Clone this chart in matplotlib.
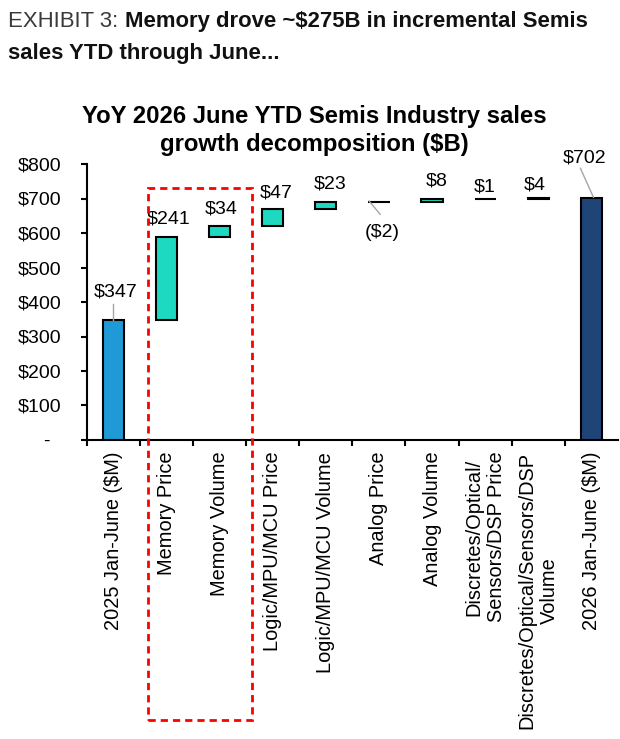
import matplotlib
matplotlib.use('Agg')
import matplotlib.pyplot as plt
from matplotlib.patches import Rectangle
from matplotlib.transforms import offset_copy
from matplotlib import font_manager

# ---------------- data ----------------
categories = ["2025 Jan-June ($M)", "Memory Price", "Memory Volume",
              "Logic/MPU/MCU Price", "Logic/MPU/MCU Volume", "Analog Price",
              "Analog Volume", "Discretes/Optical/\nSensors/DSP Price",
              "Discretes/Optical/Sensors/DSP\nVolume", "2026 Jan-June ($M)"]
start_total = 346.6
changes = [240.8, 34.2, 46.9, 22.6, -1.8, 7.9, 0.9, 3.9]
end_total = 702.0
value_labels = ["$347", "$241", "$34", "$47", "$23", "($2)", "$8", "$1", "$4", "$702"]
y_ticks = [0, 100, 200, 300, 400, 500, 600, 700, 800]
y_tick_labels = ["-  ", "$100", "$200", "$300", "$400", "$500", "$600", "$700", "$800"]

header_light = "EXHIBIT 3: "
header_bold_1 = "Memory drove ~$275B in incremental Semis"
header_bold_2 = "sales YTD through June..."
chart_title_1 = "YoY 2026 June YTD Semis Industry sales"
chart_title_2 = "growth decomposition ($B)"

# ---------------- style ----------------
W, H, DPI = 620, 739, 100
names = {f.name for f in font_manager.fontManager.ttflist}
SANS = 'Liberation Sans' if 'Liberation Sans' in names else 'DejaVu Sans'
plt.rcParams['font.family'] = [SANS, 'DejaVu Sans']

c_start = '#1F9AD6'
c_inc = '#1DD9C1'
c_end = '#1F4578'
lead_col = '#A6A6A6'

# label offsets in pixels from (bar centre, bar top)
label_dx = [2.5, 2.5, 1.5, 3.5, 3.9, 3.75, 4.5, -0.6, -3.8, -7.2]
label_dy = [31, 21.3, 18.8, 18.7, 19.9, -28.5, 20.5, 14.2, 15.1, 42.8]
# leader lines: index, (x0,y0) -> (x1,y1) pixel offsets from bar top
leaders = [(0, 0, 0, 0, 16), (5, -9.75, 0.5, 1.25, -12.8), (9, 2, 0.5, -11, 29.5)]

fig = plt.figure(figsize=(W / DPI, H / DPI), dpi=DPI)
ax = fig.add_axes([86.7 / W, 1 - 440 / H, (618 - 86.7) / W, 276 / H])

# waterfall geometry
bottoms = [0]
heights = [start_total]
run = start_total
for c in changes:
    bottoms.append(run)
    heights.append(c)
    run += c
bottoms.append(0)
heights.append(end_total)
colors = [c_start] + [c_inc] * len(changes) + [c_end]
xs = list(range(len(categories)))

ax.bar(xs, heights, bottom=bottoms, width=0.40, color=colors,
       edgecolor='black', linewidth=1.5, zorder=3)

ax.set_xlim(-0.5, len(categories) - 0.5)
ax.set_ylim(0, 800)
ax.set_yticks(y_ticks)
ax.set_yticklabels(y_tick_labels, fontsize=14)
ax.set_xticks(xs)
ax.set_xticklabels(categories, rotation=90, fontsize=14.4, va='top', ha='center')
ax.set_xticks([x - 0.5 for x in xs], minor=True)
ax.tick_params(axis='x', which='major', length=0, pad=8.5)
ax.tick_params(axis='x', which='minor', length=4, width=1.5, direction='out')
ax.tick_params(axis='y', length=4, width=1.5, direction='out', pad=14)
for s in ['top', 'right']:
    ax.spines[s].set_visible(False)
for s in ['left', 'bottom']:
    ax.spines[s].set_linewidth(1.5)

# value labels
for i, lab in enumerate(value_labels):
    top = max(bottoms[i], bottoms[i] + heights[i])
    ax.annotate(lab, xy=(i, top), xytext=(label_dx[i], label_dy[i] - 7),
                textcoords='offset pixels', ha='center', va='baseline',
                fontsize=14, annotation_clip=False, zorder=5)

for i, x0, y0, x1, y1 in leaders:
    top = max(bottoms[i], bottoms[i] + heights[i])
    t0 = offset_copy(ax.transData, fig=fig, x=x0, y=y0, units='dots')
    t1 = offset_copy(ax.transData, fig=fig, x=x1, y=y1, units='dots')
    p0 = t0.transform((i, top))
    p1 = t1.transform((i, top))
    ax.plot([p0[0], p1[0]], [p0[1], p1[1]], color=lead_col, lw=1,
            transform=None, clip_on=False, zorder=4)

# red dashed highlight box (figure pixels)
bx0, bx1, by0, by1 = 147.5, 252.5, 188.3, 719.5
fig.patches.append(Rectangle((bx0 / W, 1 - by1 / H), (bx1 - bx0) / W, (by1 - by0) / H,
                             transform=fig.transFigure, fill=False,
                             edgecolor='#FF0000', lw=2, linestyle=(0, (2.6, 1.8)),
                             zorder=10))

# chart title
fig.text(314 / W, 1 - 123.3 / H, chart_title_1,
         ha='center', va='baseline', fontsize=17.2, fontweight='bold')
fig.text(314 / W, 1 - 150.7 / H, chart_title_2,
         ha='center', va='baseline', fontsize=17.2, fontweight='bold')

# header: fit first line to the reference width (8 -> 588 px)
renderer = fig.canvas.get_renderer()
base = 17.0
ta = fig.text(0, 0, header_light, fontsize=base)
tb = fig.text(0, 0, header_bold_1, fontsize=base, fontweight='bold')
wa = ta.get_window_extent(renderer).width
wb = tb.get_window_extent(renderer).width
ta.remove(); tb.remove()
fs = base * 580.0 / (wa + wb)
t1 = fig.text(8.3 / W, 1 - 26.7 / H, header_light, ha='left', va='baseline',
              fontsize=fs, color='#3a3a3a')
fig.canvas.draw()
w1 = t1.get_window_extent(renderer).width
fig.text((8.3 + w1) / W, 1 - 26.7 / H, header_bold_1,
         ha='left', va='baseline', fontsize=fs, fontweight='bold', color='#111111')
fig.text(8.3 / W, 1 - 59.3 / H, header_bold_2, ha='left', va='baseline',
         fontsize=fs, fontweight='bold', color='#111111')

fig.savefig('out.png', dpi=DPI)
